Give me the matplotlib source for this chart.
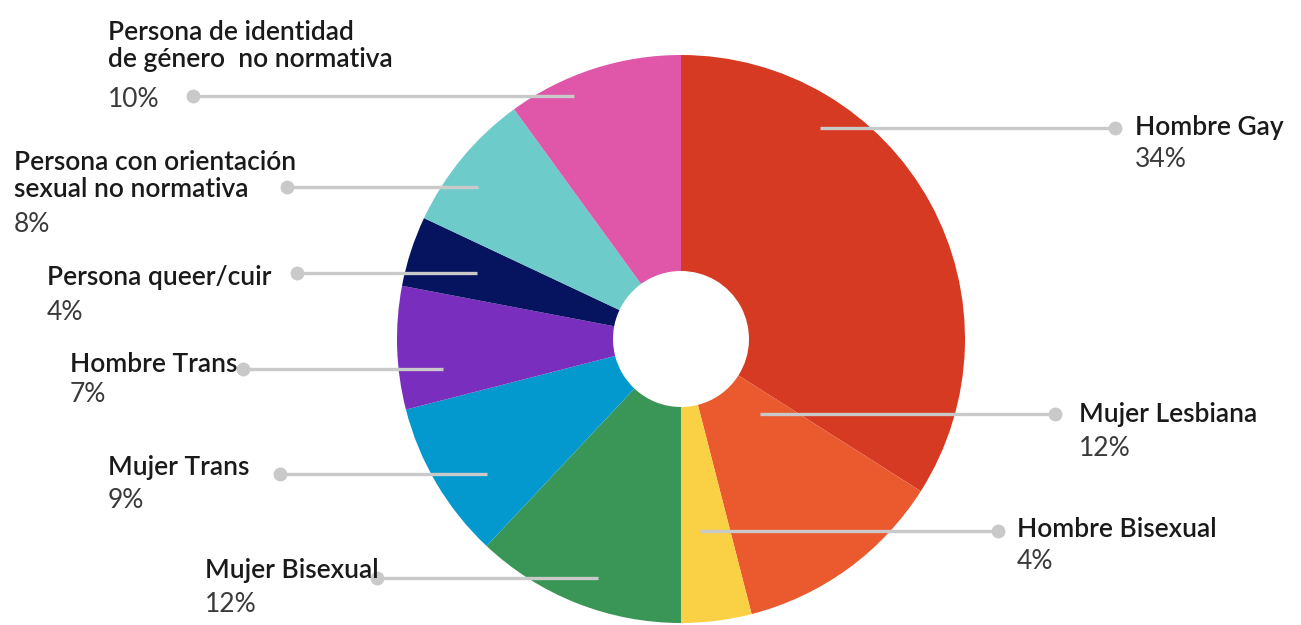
import matplotlib.pyplot as plt

plt.rcParams['font.family'] = ['Lato', 'DejaVu Sans']

categorias = ['Hombre Gay', 'Mujer Lesbiana', 'Hombre Bisexual', 'Mujer Bisexual',
              'Mujer Trans', 'Hombre Trans', 'Persona queer/cuir',
              'Persona con orientación\nsexual no normativa',
              'Persona de identidad\nde género  no normativa']
valores = [34, 12, 4, 12, 9, 7, 4, 8, 10]
colores = ['#D63A22', '#EA5A2E', '#FAD044', '#3A9657', '#0499CE',
           '#7A2EBD', '#06135F', '#6DCBC9', '#E057AA']

# layout in pixels (x, y from top): label x, last-line baseline, pct baseline, dot x, line inner x, line y
W, H = 1301, 625
etiquetas = [
    (1135, 135, 167, 1115, 820, 128),
    (1079, 422, 456, 1055, 760, 414),
    (1017, 537, 569, 998, 700, 531),
    (205, 578, 612, 377, 598, 578),
    (108, 475, 508, 280, 487, 474),
    (70, 372, 402, 243, 443, 369),
    (47, 285, 320, 297, 477, 273),
    (14, 197, 232, 287, 478, 187),
    (108, 67, 107, 193, 574, 96),
]

fig = plt.figure(figsize=(W / 100, H / 100), dpi=100)
ax = fig.add_axes([0, 0, 1, 1])

cx, cy, r, r_in = 681, 339, 284, 68
ax.pie(valores, colors=colores, startangle=90, counterclock=False,
       center=(cx, H - cy), radius=r, frame=True,
       wedgeprops=dict(width=r - r_in, linewidth=0))
ax.set_xlim(0, W)
ax.set_ylim(0, H)
ax.set_aspect('equal')
ax.axis('off')

for cat, v, (tx, ty, py, dx, lx, ly) in zip(categorias, valores, etiquetas):
    ax.plot([lx, dx], [H - ly, H - ly], color='#C9C9C9', lw=2.4, solid_capstyle='butt', zorder=3)
    ax.plot(dx, H - ly, 'o', color='#C9C9C9', ms=10, mec='none', zorder=3)
    ax.text(tx, H - ty, cat, fontsize=19, fontweight='semibold', color='#1A1A1A',
            va='baseline', ha='left', linespacing=1.12, zorder=4)
    ax.text(tx, H - py, f'{v}%', fontsize=19, fontweight='normal', color='#3A3A3A',
            va='baseline', ha='left', zorder=4)

fig.savefig('out.png', dpi=100, facecolor='white')
